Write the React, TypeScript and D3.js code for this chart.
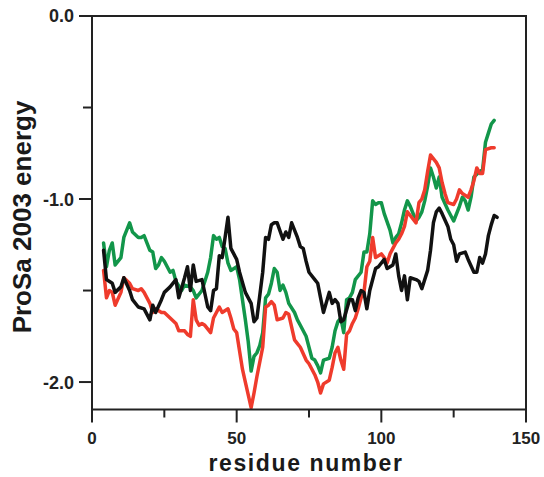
import React from "react";
import * as d3 from "d3";

// residue / energy traces
const blackRes = [4, 5, 7, 8, 10, 11, 13, 14, 16, 18, 20, 21, 22, 24, 25, 27, 29, 30, 32, 33, 34, 35, 36, 38, 40, 41, 42, 43, 44, 45, 47, 48, 49, 50, 51, 53, 55, 56, 57, 59, 60, 61, 62, 63, 64, 66, 67, 68, 69, 71, 72, 73, 74, 75, 77, 78, 79, 80, 82, 83, 84, 85, 86, 87, 89, 90, 91, 92, 93, 94, 95, 96, 98, 99, 101, 102, 104, 105, 106, 107, 108, 109, 110, 112, 113, 114, 116, 117, 118, 119, 120, 121, 123, 124, 125, 126, 127, 129, 130, 132, 133, 134, 135, 136, 137, 138, 139, 140];
const blackVal = [-1.28, -1.44, -1.46, -1.51, -1.48, -1.43, -1.5, -1.55, -1.59, -1.6, -1.66, -1.58, -1.62, -1.55, -1.51, -1.48, -1.44, -1.54, -1.43, -1.37, -1.5, -1.36, -1.45, -1.44, -1.59, -1.61, -1.5, -1.49, -1.31, -1.32, -1.1, -1.27, -1.3, -1.33, -1.4, -1.51, -1.57, -1.67, -1.65, -1.4, -1.21, -1.22, -1.14, -1.13, -1.13, -1.22, -1.18, -1.21, -1.13, -1.21, -1.26, -1.27, -1.34, -1.4, -1.44, -1.46, -1.54, -1.62, -1.51, -1.57, -1.55, -1.57, -1.67, -1.66, -1.55, -1.55, -1.61, -1.54, -1.5, -1.51, -1.6, -1.5, -1.38, -1.37, -1.33, -1.38, -1.36, -1.3, -1.42, -1.5, -1.42, -1.55, -1.43, -1.44, -1.45, -1.49, -1.39, -1.28, -1.13, -1.07, -1.05, -1.08, -1.15, -1.22, -1.25, -1.34, -1.3, -1.29, -1.33, -1.4, -1.4, -1.32, -1.35, -1.3, -1.2, -1.14, -1.09, -1.1];

const greenRes = [4, 5, 6, 7, 8, 10, 11, 13, 14, 16, 17, 18, 20, 21, 22, 23, 24, 25, 27, 28, 29, 31, 32, 34, 35, 36, 38, 40, 41, 42, 43, 44, 45, 46, 47, 48, 50, 51, 52, 53, 54, 55, 56, 57, 58, 59, 60, 61, 62, 63, 64, 65, 66, 67, 68, 70, 71, 72, 74, 75, 76, 77, 78, 79, 80, 82, 83, 84, 85, 86, 87, 88, 89, 90, 91, 93, 94, 95, 96, 97, 98, 99, 100, 101, 103, 104, 105, 106, 107, 108, 109, 110, 112, 113, 114, 115, 116, 117, 118, 119, 120, 121, 123, 124, 125, 127, 128, 129, 130, 131, 132, 134, 135, 136, 137, 138, 139];
const greenVal = [-1.24, -1.37, -1.28, -1.24, -1.36, -1.32, -1.21, -1.13, -1.18, -1.21, -1.21, -1.2, -1.28, -1.29, -1.38, -1.36, -1.32, -1.34, -1.4, -1.39, -1.45, -1.5, -1.47, -1.48, -1.5, -1.54, -1.5, -1.4, -1.32, -1.2, -1.22, -1.21, -1.26, -1.27, -1.35, -1.39, -1.37, -1.44, -1.55, -1.66, -1.78, -1.94, -1.86, -1.84, -1.8, -1.73, -1.54, -1.52, -1.46, -1.38, -1.4, -1.5, -1.47, -1.51, -1.57, -1.62, -1.66, -1.69, -1.75, -1.81, -1.87, -1.88, -1.91, -1.95, -1.88, -1.87, -1.81, -1.72, -1.67, -1.65, -1.73, -1.55, -1.54, -1.51, -1.44, -1.4, -1.29, -1.29, -1.19, -1.01, -1.03, -1.02, -1.02, -1.08, -1.17, -1.24, -1.21, -1.19, -1.13, -1.06, -1.01, -1.04, -1.12, -1.1, -1.07, -1.01, -0.93, -0.83, -0.88, -0.94, -0.88, -0.99, -1.06, -1.09, -1.12, -1.04, -0.99, -1.01, -1.06, -0.99, -0.88, -0.85, -0.84, -0.69, -0.64, -0.59, -0.57];

const redRes = [4, 5, 6, 7, 8, 10, 11, 13, 14, 16, 17, 18, 20, 21, 22, 24, 25, 27, 29, 30, 32, 33, 34, 35, 36, 37, 38, 39, 41, 42, 43, 44, 45, 47, 48, 49, 50, 51, 52, 53, 54, 55, 56, 57, 59, 60, 61, 62, 63, 64, 66, 67, 68, 69, 70, 71, 72, 74, 75, 76, 77, 78, 79, 80, 82, 83, 84, 85, 86, 87, 88, 89, 90, 91, 92, 93, 94, 95, 96, 97, 98, 100, 101, 102, 103, 104, 105, 106, 107, 108, 109, 110, 112, 113, 114, 115, 116, 117, 119, 120, 121, 122, 123, 125, 126, 127, 128, 130, 131, 132, 133, 134, 135, 136, 138, 139];
const redVal = [-1.39, -1.54, -1.5, -1.51, -1.58, -1.51, -1.43, -1.46, -1.49, -1.5, -1.49, -1.51, -1.57, -1.62, -1.6, -1.62, -1.62, -1.65, -1.68, -1.72, -1.72, -1.74, -1.75, -1.55, -1.66, -1.69, -1.68, -1.69, -1.73, -1.65, -1.62, -1.59, -1.62, -1.6, -1.65, -1.71, -1.73, -1.83, -1.93, -2.0, -2.07, -2.14, -2.06, -1.97, -1.81, -1.59, -1.58, -1.56, -1.58, -1.66, -1.65, -1.62, -1.63, -1.7, -1.77, -1.79, -1.81, -1.88, -1.9, -1.93, -1.96, -2.0, -2.06, -2.01, -1.99, -1.92, -1.84, -1.81, -1.88, -1.93, -1.74, -1.72, -1.68, -1.65, -1.6, -1.54, -1.51, -1.37, -1.34, -1.21, -1.32, -1.3, -1.32, -1.35, -1.3, -1.27, -1.24, -1.22, -1.19, -1.15, -1.07, -1.09, -1.13, -1.02, -1.0, -0.95, -0.85, -0.76, -0.8, -0.83, -0.91, -0.97, -1.02, -1.03, -1.0, -0.95, -0.97, -0.99, -0.95, -0.9, -0.83, -0.86, -0.86, -0.73, -0.72, -0.72];

const xMajor = [0, 50, 100, 150];
const xMinor = [25, 75, 125];
const yMajor = [0, -1, -2];
const yMinor = [-0.5, -1.5];

const series = [
  { name: "green", res: greenRes, val: greenVal, color: "#12964a" },
  { name: "red", res: redRes, val: redVal, color: "#ef3b2c" },
  { name: "black", res: blackRes, val: blackVal, color: "#111111" },
];

const frame = { left: 92, right: 526, top: 16, bottom: 409.5 };
const font = "'Liberation Sans', Arial, sans-serif";
const axisColor = "#222";

const App = () => {
  const x = d3.scaleLinear().domain([0, 150]).range([frame.left, frame.right]);
  const y = d3.scaleLinear().domain([-2.15, 0]).range([frame.bottom, frame.top]);

  const line = d3
    .line<[number, number]>()
    .x((d) => x(d[0]))
    .y((d) => y(d[1]));

  return (
    <svg
      width={544}
      height={477}
      style={{ position: "absolute", left: 0, top: 0, background: "#fff" }}
      fontFamily={font}
    >
      {/* lines */}
      {series.map((s) => (
        <path
          key={s.name}
          d={line(s.res.map((r, i) => [r, s.val[i]]) as [number, number][]) || ""}
          fill="none"
          stroke={s.color}
          strokeWidth={3.5}
          strokeLinejoin="round"
          strokeLinecap="round"
        />
      ))}

      {/* frame */}
      <rect
        x={frame.left}
        y={frame.top}
        width={frame.right - frame.left}
        height={frame.bottom - frame.top}
        fill="none"
        stroke={axisColor}
        strokeWidth={2}
      />

      {/* y axis */}
      {yMajor.map((v) => (
        <g key={"ym" + v}>
          <line x1={frame.left - 13} x2={frame.left} y1={y(v)} y2={y(v)} stroke={axisColor} strokeWidth={2} />
          <text
            x={frame.left - 18}
            y={y(v)}
            dy="0.36em"
            textAnchor="end"
            fontSize={18}
            fontWeight="bold"
            fill={axisColor}
          >
            {d3.format(".1f")(v).replace("−", "-")}
          </text>
        </g>
      ))}
      {yMinor.map((v) => (
        <line key={"yn" + v} x1={frame.left - 9} x2={frame.left} y1={y(v)} y2={y(v)} stroke={axisColor} strokeWidth={2} />
      ))}

      {/* x axis */}
      {xMajor.map((v) => (
        <g key={"xm" + v}>
          <line x1={x(v)} x2={x(v)} y1={frame.bottom} y2={frame.bottom + 13} stroke={axisColor} strokeWidth={2} />
          <text
            x={x(v)}
            y={frame.bottom + 34}
            textAnchor="middle"
            fontSize={17}
            fontWeight="bold"
            fill={axisColor}
          >
            {v}
          </text>
        </g>
      ))}
      {xMinor.map((v) => (
        <line key={"xn" + v} x1={x(v)} x2={x(v)} y1={frame.bottom} y2={frame.bottom + 8} stroke={axisColor} strokeWidth={2} />
      ))}

      {/* axis titles */}
      <text
        x={(frame.left + frame.right) / 2 - 3}
        y={471}
        textAnchor="middle"
        fontSize={23}
        fontWeight="bold"
        letterSpacing={1.6}
        fill="#1a1a1a"
      >
        residue number
      </text>
      <text
        transform={`translate(31 ${217}) rotate(-90)`}
        textAnchor="middle"
        fontSize={26}
        fontWeight="bold"
        fill="#1a1a1a"
      >
        ProSa 2003 energy
      </text>
    </svg>
  );
};

export default App;
